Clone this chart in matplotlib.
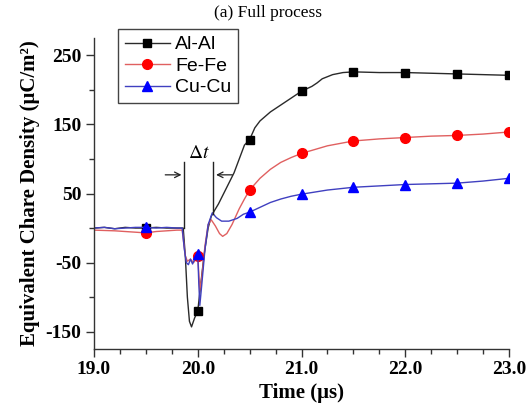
import numpy as np
import matplotlib
matplotlib.use("Agg")
import matplotlib.pyplot as plt
from matplotlib.ticker import MultipleLocator, FormatStrFormatter

# sampled waveforms (time in us, charge density in uC/m^2)
al_t = [19.0, 19.1, 19.2, 19.3, 19.4, 19.5, 19.6, 19.7, 19.8, 19.86, 19.88, 19.9,
        19.92, 19.94, 19.97, 20.0, 20.03, 20.06, 20.1, 20.13, 20.16, 20.2, 20.25,
        20.3, 20.35, 20.4, 20.45, 20.5, 20.55, 20.6, 20.7, 20.8, 20.9, 21.0, 21.1,
        21.15, 21.2, 21.3, 21.4, 21.5, 21.75, 22.0, 22.25, 22.5, 22.75, 23.0]
al_q = [0, 1, -1, 1, 0, 0, 1, 0, 0, 0, -40, -100,
        -135, -143, -130, -120, -80, -40, 0, 17, 25, 35, 50,
        65, 80, 100, 120, 128, 145, 155, 168, 178, 188, 198, 205,
        210, 216, 222, 225, 226, 225, 225, 224, 223, 222, 221]

fe_t = [19.0, 19.2, 19.4, 19.5, 19.6, 19.8, 19.85, 19.88, 19.9, 19.93, 19.96,
        20.0, 20.02, 20.04, 20.07, 20.1, 20.13, 20.17, 20.21, 20.24, 20.28, 20.33,
        20.4, 20.45, 20.5, 20.6, 20.7, 20.8, 20.9, 21.0, 21.25, 21.5, 21.75, 22.0,
        22.25, 22.5, 22.75, 23.0]
fe_q = [-3, -4, -6, -7, -5, -3, -3, -40, -48, -45, -50,
        -40, -90, -70, -25, 5, 12, 3, -8, -12, -8, 5,
        28, 42, 55, 72, 85, 95, 102, 108, 119, 126, 129, 131,
        133, 134, 136, 139]

cu_t = [19.0, 19.1, 19.2, 19.3, 19.4, 19.5, 19.6, 19.7, 19.8, 19.85, 19.87, 19.89,
        19.91, 19.93, 19.95, 19.97, 20.0, 20.01, 20.02, 20.04, 20.07, 20.1, 20.14,
        20.18, 20.23, 20.3, 20.38, 20.44, 20.5, 20.6, 20.7, 20.8, 20.9, 21.0, 21.25,
        21.5, 21.75, 22.0, 22.25, 22.5, 22.75, 23.0]
cu_q = [0, 1, -1, 0, 1, 1, 0, 1, 0, 0, -30, -50,
        -53, -45, -52, -45, -37, -80, -112, -80, -30, 5, 22,
        15, 10, 10, 14, 20, 23, 30, 37, 42, 46, 49, 55,
        59, 61, 63, 64, 65, 68, 72]

mark_step = 0.5


def mark_idx(t):
    # symbols only on the 0.5 us grid, skipping the left edge
    return [i for i, v in enumerate(t)
            if v > 19.0 and abs(v / mark_step - round(v / mark_step)) < 1e-6]


plt.rcParams["font.family"] = ["Liberation Serif", "DejaVu Serif"]
plt.rcParams["mathtext.fontset"] = "stix"
plt.rcParams["axes.unicode_minus"] = False

fig = plt.figure(figsize=(5.32, 4.12), dpi=100)
ax = fig.add_axes([94 / 532, 1 - 349 / 412, (509 - 94) / 532, (349 - 38) / 412])

ax.plot(al_t, al_q, color="#2a2a2a", lw=1.0, marker="s", ms=6, mfc="black",
        mec="black", markevery=mark_idx(al_t), label="Al-Al")
ax.plot(fe_t, fe_q, color="#e06060", lw=1.0, marker="o", ms=7, mfc="red",
        mec="red", markevery=mark_idx(fe_t), label="Fe-Fe")
ax.plot(cu_t, cu_q, color="#4040c0", lw=1.0, marker="^", ms=7, mfc="blue",
        mec="blue", markevery=mark_idx(cu_t), label="Cu-Cu")

# pulse width marker
t1, t2 = 19.87, 20.15
ax.plot([t1, t1], [0, 96], color="#222222", lw=1.0)
ax.plot([t2, t2], [20, 96], color="#222222", lw=1.0)
ax.annotate("", xy=(t1, 77), xytext=(19.66, 77),
            arrowprops=dict(arrowstyle="->", color="#222222", lw=0.9))
ax.annotate("", xy=(t2, 77), xytext=(20.36, 77),
            arrowprops=dict(arrowstyle="->", color="#222222", lw=0.9))
ax.text((t1 + t2) / 2, 108, r"$\Delta t$", ha="center", va="center", fontsize=14)

ax.set_xlim(19.0, 23.0)
ax.set_ylim(-175, 275)
ax.xaxis.set_major_locator(MultipleLocator(1.0))
ax.xaxis.set_minor_locator(MultipleLocator(0.25))
ax.set_yticks([-150, -50, 50, 150, 250])
ax.yaxis.set_minor_locator(MultipleLocator(50))
ax.xaxis.set_major_formatter(FormatStrFormatter("%.1f"))

for s in ("top", "right"):
    ax.spines[s].set_visible(False)
for s in ("left", "bottom"):
    ax.spines[s].set_color("#333333")
    ax.spines[s].set_linewidth(1.0)
ax.tick_params(which="major", direction="out", length=6, width=1, color="#333333",
               labelsize=14, pad=3)
ax.tick_params(which="minor", direction="out", length=3.5, width=1, color="#333333")
for lab in ax.get_xticklabels() + ax.get_yticklabels():
    lab.set_fontweight("bold")

ax.set_xlabel("Time (μs)", fontsize=15, fontweight="bold", labelpad=3)
ax.set_ylabel("Equivalent Chare Density (μC/m²)", fontsize=15, fontweight="bold",
              labelpad=4)
fig.text(268 / 532, 1 - 13 / 412, "(a) Full process", ha="center", va="center",
         fontsize=12.5)

leg = ax.legend(loc="upper left", bbox_to_anchor=(118 / 532, 1 - 29 / 412),
                bbox_transform=fig.transFigure, prop={"family": "Liberation Sans",
                                                      "size": 14},
                frameon=True, fancybox=False, framealpha=1, edgecolor="#444444",
                handlelength=2.3, handletextpad=0.3, labelspacing=0.2,
                borderpad=0.35, borderaxespad=0)
leg.get_frame().set_linewidth(1.0)

fig.savefig("out.png", dpi=100)
